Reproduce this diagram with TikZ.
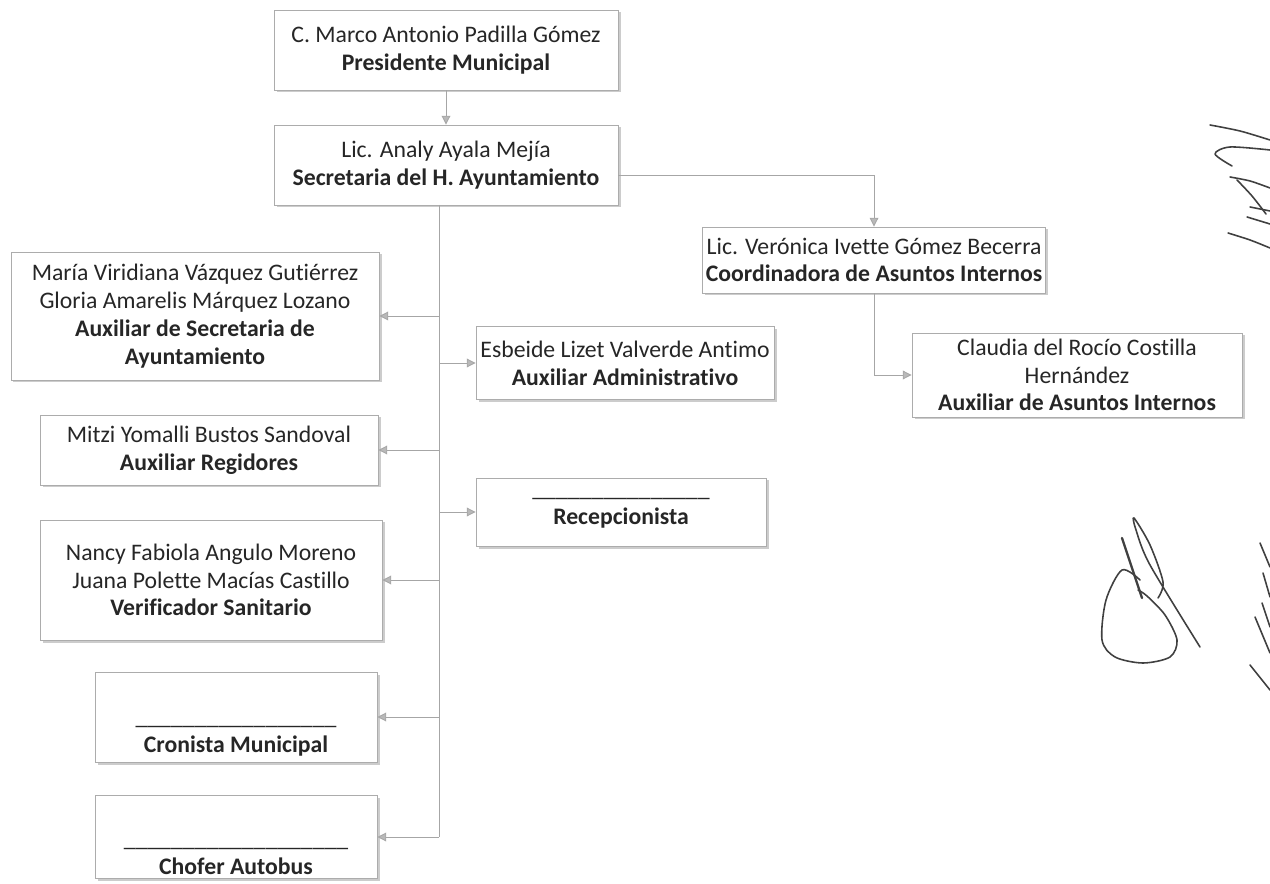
\documentclass[tikz,border=0pt]{standalone}
\usepackage{fontspec}
\setmainfont{Carlito}[RawFeature=-liga]
\usetikzlibrary{arrows.meta,shadows}

\begin{document}
\begin{tikzpicture}[x=0.02cm,y=-0.02cm,
  box/.style 2 args={rectangle,draw=gray!65,line width=0.5pt,fill=white,
    drop shadow={shadow xshift=0.05cm,shadow yshift=-0.05cm,fill=gray!40,opacity=1},
    minimum width=#1*0.02cm,minimum height=#2*0.02cm,inner sep=2pt,align=center,
    font=\fontsize{13.5}{15.8}\selectfont,text=black!85},
  link/.style={draw=gray!70,line width=0.5pt},
  arr/.style={link,-{Triangle[length=5pt,width=5pt,fill=gray!55]}},
  pen/.style={draw=black!75,line width=0.9pt,line cap=round,line join=round}]
  \useasboundingbox (0,0) rectangle (1270,884);
  % boxes
  \node[box={344}{80}] (pres) at (446,50) {C. Marco Antonio Padilla Gómez\\\textbf{Presidente Municipal}};
  \node[box={344}{80}] (secr) at (446,165) {Lic. Analy Ayala Mejía\\\textbf{Secretaria del H. Ayuntamiento}};
  \node[box={342}{66}] (coord) at (874,260) {Lic. Verónica Ivette Gómez Becerra\\\textbf{Coordinadora de Asuntos Internos}};
  \node[box={330}{84}] (claud) at (1077,375) {Claudia del Rocío Costilla\\Hernández\\\textbf{Auxiliar de Asuntos Internos}};
  \node[box={368}{128}] (maria) at (195,316) {María Viridiana Vázquez Gutiérrez\\Gloria Amarelis Márquez Lozano\\\textbf{Auxiliar de Secretaria de}\\\textbf{Ayuntamiento}};
  \node[box={298}{73}] (esbe) at (625,363) {Esbeide Lizet Valverde Antimo\\\textbf{Auxiliar Administrativo}};
  \node[box={338}{70}] (mitzi) at (209,450) {Mitzi Yomalli Bustos Sandoval\\\textbf{Auxiliar Regidores}};
  \node[box={290}{68}] (recep) at (621,512) {\_\_\_\_\_\_\_\_\_\_\_\_\_\_\_\\\textbf{Recepcionista}};
  \node[box={342}{120}] (nancy) at (211,580) {Nancy Fabiola Angulo Moreno\\Juana Polette Macías Castillo\\\textbf{Verificador Sanitario}};
  \node[box={282}{90}] (cron) at (236,717) {\strut\\\_\_\_\_\_\_\_\_\_\_\_\_\_\_\_\_\_\\\textbf{Cronista Municipal}};
  \node[box={282}{82}] (chof) at (236,837) {\strut\\\_\_\_\_\_\_\_\_\_\_\_\_\_\_\_\_\_\_\_\\\textbf{Chofer Autobus}};
  % connectors
  \coordinate (trk) at (439,205);
  \coordinate (sx) at (618,175);
  \draw[arr] (pres.south) -- (secr.north);
  \draw[arr] (sx) -| (coord.north);
  \draw[arr] (coord.south) |- (claud.west);
  \draw[link] (trk) -- (trk |- chof.east);
  \foreach \n in {maria,mitzi,nancy,cron,chof} \draw[arr] (trk |- \n.east) -- (\n.east);
  \foreach \n in {esbe,recep} \draw[arr] (trk |- \n.west) -- (\n.west);
  % signatures
  \draw[pen] plot[smooth] coordinates {(1210,125) (1240,131) (1270,140)};
  \draw[pen] plot[smooth] coordinates {(1270,150) (1230,147) (1215,154) (1232,166)};
  \draw[pen] plot[smooth] coordinates {(1230,177) (1250,181) (1270,188)};
  \draw[pen] plot[smooth] coordinates {(1237,180) (1252,196) (1266,214)};
  \draw[pen] (1250,207) -- (1270,211);
  \draw[pen] (1247,217) -- (1270,224);
  \draw[pen] plot[smooth] coordinates {(1228,233) (1250,240) (1270,248)};
  \draw[pen] plot[smooth] coordinates {(1140,580) (1122,570) (1106,600) (1102,640) (1115,657) (1143,663) (1170,657) (1177,640) (1165,615) (1147,596) (1138,590)};
  \draw[pen,line width=1.3pt] (1122,538) -- (1142,598);
  \draw[pen] plot[smooth] coordinates {(1158,598) (1163,582) (1150,545) (1134,518) (1136,530) (1150,565) (1200,647)};
  \foreach \a/\b in {{1260,543}/{1270,567},{1263,573}/{1270,597},{1262,603}/{1270,627},{1255,617}/{1270,653},{1250,665}/{1270,690}}
    \draw[pen] (\a) -- (\b);
\end{tikzpicture}
\end{document}
